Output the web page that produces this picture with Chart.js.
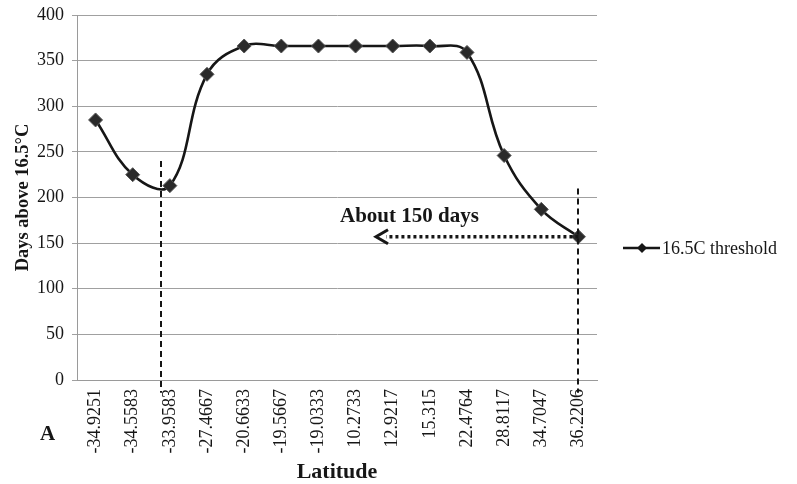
<!DOCTYPE html>
<html>
<head>
<meta charset="utf-8">
<script src="https://cdn.jsdelivr.net/npm/chart.js@4.4.0/dist/chart.umd.min.js"></script>
<style>
  html, body { margin: 0; padding: 0; background: #fff; }
  #wrap { width: 797px; height: 484px; }
</style>
</head>
<body>
<div id="wrap"><canvas id="chart" width="797" height="484"></canvas></div>
<script>
const latitudes = ["-34.9251", "-34.5583", "-33.9583", "-27.4667", "-20.6633", "-19.5667", "-19.0333",
  "10.2733", "12.9217", "15.315", "22.4764", "28.8117", "34.7047", "36.2206"];
const daysAbove = [285, 225, 213, 335, 366, 366, 366, 366, 366, 366, 359, 246, 187, 157];
const yTicks = [0, 50, 100, 150, 200, 250, 300, 350, 400];
const seriesName = "16.5C threshold";

// dashed guide lines: category position, top value, bottom value
const guideLines = [
  { at: 1.75, top: 240, bottom: -14 },
  { at: 13, top: 210, bottom: -14 }
];
// dotted arrow pointing left
const arrow = { y: 157, from: 13, to: 7.55 };
const arrowText = "About 150 days";

const serif = "'Liberation Serif', 'Times New Roman', serif";
const ink = "#161616";

const annotations = {
  id: "annotations",
  afterDraw(chart) {
    const ctx = chart.ctx;
    const x = chart.scales.x;
    const y = chart.scales.y;
    ctx.save();
    ctx.strokeStyle = ink;

    // vertical dashed lines
    ctx.lineWidth = 2;
    ctx.setLineDash([6, 4]);
    guideLines.forEach(g => {
      const px = Math.round(x.getPixelForValue(g.at));
      ctx.beginPath();
      ctx.moveTo(px, y.getPixelForValue(g.top));
      ctx.lineTo(px, y.getPixelForValue(g.bottom));
      ctx.stroke();
    });

    // dotted arrow
    const ay = y.getPixelForValue(arrow.y);
    const x1 = x.getPixelForValue(arrow.from);
    const x2 = x.getPixelForValue(arrow.to);
    ctx.lineWidth = 3.5;
    ctx.setLineDash([3, 3]);
    ctx.beginPath();
    ctx.moveTo(x1, ay);
    ctx.lineTo(x2 + 10, ay);
    ctx.stroke();
    ctx.setLineDash([]);
    ctx.lineWidth = 3;
    ctx.beginPath();
    ctx.moveTo(x2 + 12, ay - 7);
    ctx.lineTo(x2, ay);
    ctx.lineTo(x2 + 12, ay + 7);
    ctx.stroke();

    ctx.fillStyle = ink;
    ctx.font = "bold 21px " + serif;
    ctx.textAlign = "left";
    ctx.textBaseline = "alphabetic";
    ctx.fillText(arrowText, x.getPixelForValue(6.58), y.getPixelForValue(173));

    // panel letter
    ctx.font = "bold 21px " + serif;
    ctx.fillText("A", 40, 440);

    // legend
    const ly = 248;
    const lx = chart.chartArea.right + 26;
    ctx.lineWidth = 2.5;
    ctx.beginPath();
    ctx.moveTo(lx, ly);
    ctx.lineTo(lx + 37, ly);
    ctx.stroke();
    ctx.beginPath();
    ctx.moveTo(lx + 19, ly - 5);
    ctx.lineTo(lx + 24, ly);
    ctx.lineTo(lx + 19, ly + 5);
    ctx.lineTo(lx + 14, ly);
    ctx.closePath();
    ctx.fill();
    ctx.font = "18px " + serif;
    ctx.textBaseline = "middle";
    ctx.fillText(seriesName, lx + 39, ly + 1);
    ctx.restore();
  }
};

new Chart(document.getElementById("chart"), {
  type: "line",
  data: {
    labels: latitudes,
    datasets: [{
      label: seriesName,
      data: daysAbove,
      borderColor: ink,
      backgroundColor: ink,
      borderWidth: 2.6,
      tension: 0.4,
      pointStyle: "rectRot",
      pointRadius: 7,
      pointBackgroundColor: "#2a2a2a",
      pointBorderColor: "#555",
      pointBorderWidth: 1
    }]
  },
  options: {
    responsive: false,
    animation: false,
    layout: { padding: { left: 12, right: 200, top: 0, bottom: 1 } },
    plugins: {
      legend: { display: false },
      tooltip: { enabled: false }
    },
    scales: {
      x: {
        offset: true,
        afterFit(axis) { axis.height = 103; },
        grid: { display: false, offset: true, drawTicks: false },
        border: { color: "#9a9a9a", width: 1 },
        ticks: {
          color: ink,
          font: { family: serif, size: 18 },
          minRotation: 90,
          maxRotation: 90,
          autoSkip: false,
          padding: 9
        },
        title: {
          display: true,
          text: "Latitude",
          color: ink,
          font: { family: serif, size: 22, weight: "bold", lineHeight: 1 },
          padding: { top: 0, bottom: 0 }
        }
      },
      y: {
        min: 0,
        max: 400,
        afterFit(axis) { axis.width = 65; axis.paddingTop = 15; },
        afterBuildTicks(axis) { axis.ticks = yTicks.map(v => ({ value: v })); },
        grid: { color: "#a0a0a0", lineWidth: 1, tickLength: 5 },
        border: { color: "#9a9a9a", width: 1 },
        ticks: {
          color: ink,
          font: { family: serif, size: 18, lineHeight: 1 },
          padding: 8
        },
        title: {
          display: true,
          text: "Days above 16.5°C",
          color: ink,
          font: { family: serif, size: 18.5, weight: "bold" },
          padding: { top: 0, bottom: 0 }
        }
      }
    }
  },
  plugins: [annotations]
});
</script>
</body>
</html>
